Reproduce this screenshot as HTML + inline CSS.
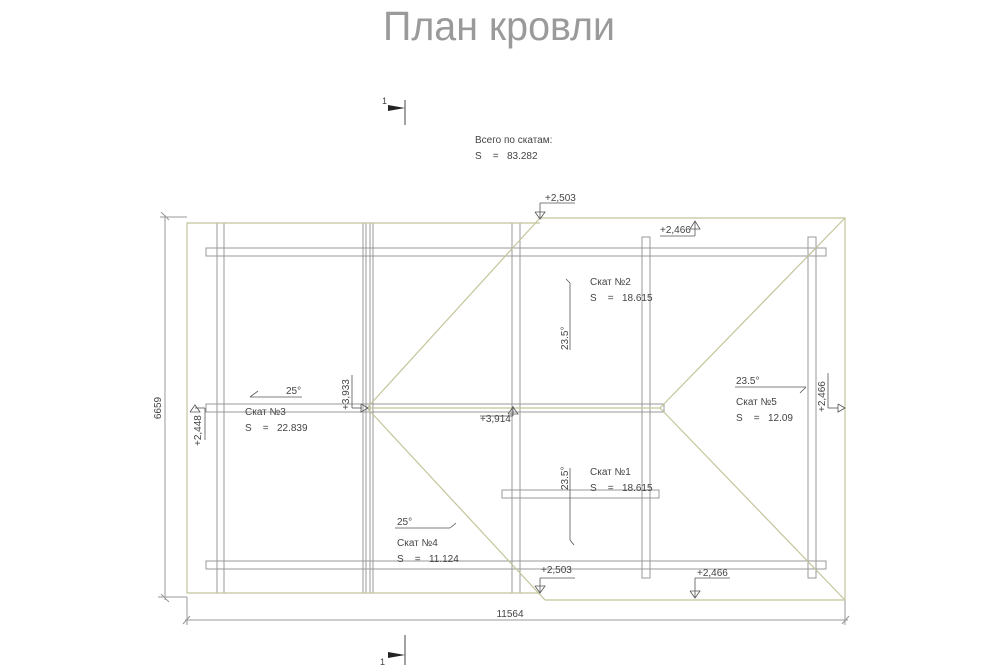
<!DOCTYPE html>
<html><head><meta charset="utf-8"><style>
body{margin:0;background:#fff}
svg{display:block}
text{font-family:"Liberation Sans Narrow","Liberation Sans",sans-serif;fill:#444;font-size:10px}
</style></head><body>
<svg width="1000" height="667" viewBox="0 0 1000 667">
<text x="383" y="40" style="font-size:41px;fill:#9a9a9a" textLength="232" lengthAdjust="spacingAndGlyphs">План кровли</text>
<g stroke="#888" stroke-width="1" fill="none">
<line x1="405" y1="100" x2="405" y2="125" stroke="#444"/>
<line x1="405" y1="635" x2="405" y2="665" stroke="#444"/>
</g>
<polygon points="388,105 405,108 388,111" fill="#222"/>
<polygon points="388,652 405,655 388,658" fill="#222"/>
<text x="382" y="104" style="font-size:9px">1</text>
<text x="380" y="665" style="font-size:9px">1</text>
<text x="475" y="143">Всего по скатам:</text>
<text x="475" y="159">S&#160;&#160;&#160; =&#160;&#160; 83.282</text>

<g stroke="#999" stroke-width="1" fill="none">
<rect x="206" y="248" width="620" height="8"/>
<rect x="206" y="561" width="620" height="8"/>
<rect x="206" y="404" width="458" height="8"/>
<rect x="502" y="490" width="157" height="8"/>
<line x1="217" y1="223" x2="217" y2="593"/><line x1="224" y1="223" x2="224" y2="593"/>
<line x1="363" y1="223" x2="363" y2="593"/><line x1="366" y1="223" x2="366" y2="593"/>
<line x1="370" y1="223" x2="370" y2="593"/><line x1="373" y1="223" x2="373" y2="593"/>
<line x1="512" y1="223" x2="512" y2="593"/><line x1="520" y1="223" x2="520" y2="593"/>
<rect x="642" y="237" width="8" height="341"/>
<rect x="808" y="237" width="8" height="341"/>
<line x1="165" y1="215" x2="165" y2="600"/>
<line x1="160" y1="217" x2="187" y2="217"/>
<line x1="158" y1="597" x2="187" y2="597"/>
<line x1="185" y1="620" x2="848" y2="620"/>
<line x1="187" y1="597" x2="187" y2="625"/>
<line x1="845" y1="600" x2="845" y2="625"/>
<line x1="161" y1="212" x2="169" y2="220"/><line x1="161" y1="594" x2="169" y2="602"/>
<line x1="183" y1="624" x2="190" y2="616"/><line x1="842" y1="624" x2="849" y2="616"/>
</g>
<text transform="translate(161,408) rotate(-90)" text-anchor="middle">6659</text>
<text x="510" y="617" text-anchor="middle">11564</text>

<g stroke="#c4c49a" stroke-width="1.2" fill="none">
<polyline points="540,223 187,223 187,593 540,593"/>
<polyline points="540,218 845,218 845,600 545,600"/>
<line x1="540" y1="218" x2="367" y2="408"/>
<line x1="367" y1="408" x2="545" y2="600"/>
<line x1="367" y1="408" x2="660" y2="408"/>
<line x1="660" y1="408" x2="845" y2="218"/>
<line x1="660" y1="408" x2="845" y2="600"/>
</g>

<g stroke="#555" stroke-width="0.8" fill="none">
<line x1="250" y1="397" x2="302" y2="397"/><line x1="250" y1="397" x2="258" y2="391"/>
<line x1="395" y1="528" x2="450" y2="528"/><line x1="450" y1="528" x2="456" y2="523"/>
<line x1="570" y1="283" x2="570" y2="350"/><line x1="570" y1="283" x2="566" y2="279"/>
<line x1="570" y1="468" x2="570" y2="540"/><line x1="570" y1="540" x2="574" y2="545"/>
<line x1="735" y1="387" x2="806" y2="387"/><line x1="806" y1="387" x2="800" y2="393"/>
<line x1="540" y1="203" x2="575" y2="203"/><line x1="540" y1="203" x2="540" y2="218"/><polyline points="535,212 545,212 540,219 535,212"/>
<line x1="660" y1="236" x2="695" y2="236"/><line x1="695" y1="236" x2="695" y2="222"/><polyline points="690,229 700,229 695,221 690,229"/>
<line x1="352" y1="408" x2="352" y2="375"/><line x1="352" y1="408" x2="362" y2="408"/><polyline points="361,404 361,412 368,408 361,404"/>
<line x1="480" y1="416" x2="513" y2="416"/><line x1="513" y1="416" x2="513" y2="406"/><polyline points="508,414 518,414 513,407 508,414"/>
<line x1="540" y1="578" x2="575" y2="578"/><line x1="540" y1="578" x2="540" y2="593"/><polyline points="535,586 545,586 540,593 535,586"/>
<line x1="695" y1="578" x2="730" y2="578"/><line x1="695" y1="578" x2="695" y2="598"/><polyline points="690,591 700,591 695,598 690,591"/>
<line x1="828" y1="373" x2="828" y2="408"/><line x1="828" y1="408" x2="838" y2="408"/><polyline points="838,404 838,412 845,408 838,404"/>
<line x1="205" y1="408" x2="205" y2="440"/><line x1="195" y1="408" x2="205" y2="408"/><polyline points="190,412 200,412 195,405 190,412"/>
</g>
<text x="545" y="201">+2,503</text>
<text x="660" y="233">+2,466</text>
<text transform="translate(349,410) rotate(-90)">+3,933</text>
<text x="480" y="422">+3,914</text>
<text x="541" y="573">+2,503</text>
<text x="697" y="576">+2,466</text>
<text transform="translate(825,412) rotate(-90)">+2,466</text>
<text transform="translate(201,446) rotate(-90)">+2,448</text>
<text x="286" y="394">25°</text>
<text x="397" y="525">25°</text>
<text transform="translate(568,350) rotate(-90)">23.5°</text>
<text transform="translate(568,490) rotate(-90)">23.5°</text>
<text x="736" y="384">23.5°</text>
<text x="245" y="415">Скат №3</text>
<text x="245" y="431">S&#160;&#160;&#160; =&#160;&#160; 22.839</text>
<text x="590" y="285">Скат №2</text>
<text x="590" y="301">S&#160;&#160;&#160; =&#160;&#160; 18.615</text>
<text x="736" y="405">Скат №5</text>
<text x="736" y="421">S&#160;&#160;&#160; =&#160;&#160; 12.09</text>
<text x="590" y="475">Скат №1</text>
<text x="590" y="491">S&#160;&#160;&#160; =&#160;&#160; 18.615</text>
<text x="397" y="546">Скат №4</text>
<text x="397" y="562">S&#160;&#160;&#160; =&#160;&#160; 11.124</text>
</svg>
</body></html>
